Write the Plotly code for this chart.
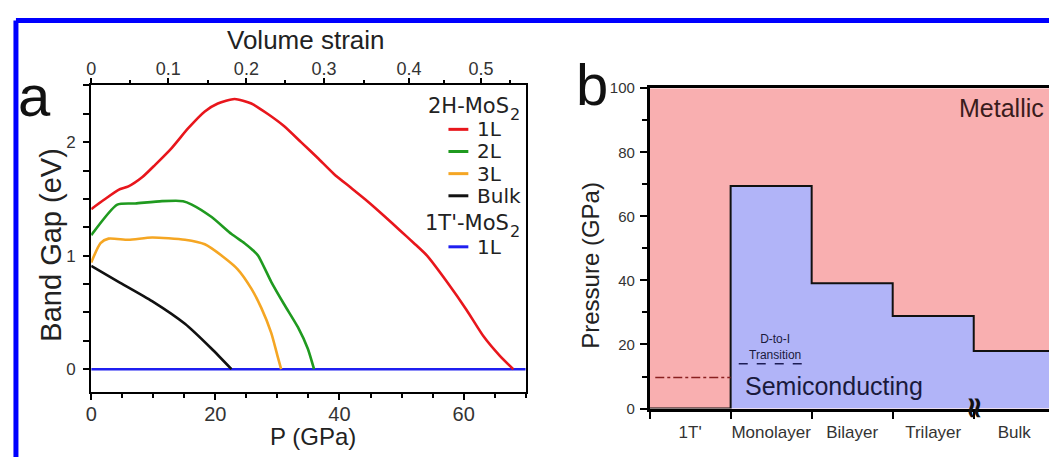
import plotly.graph_objects as go

W, H = 1049, 457

# ---------------- panel (a): band gap vs pressure ----------------
p_1l = [0, 2.0, 4.4, 6.0, 8.2, 10.3, 13.0, 15.6, 18.3, 20.4, 23.1, 25.8, 28.4,
        31.1, 33.8, 36.5, 39.1, 41.8, 44.5, 47.2, 49.8, 52.0, 54.1, 57.3, 60.5,
        63.2, 65.8, 68.0]
gap_1l = [1.41, 1.49, 1.58, 1.61, 1.69, 1.80, 1.95, 2.12, 2.27, 2.34, 2.38, 2.34,
          2.25, 2.14, 2.00, 1.86, 1.72, 1.60, 1.48, 1.35, 1.22, 1.11, 1.00, 0.77,
          0.52, 0.29, 0.12, 0.0]

p_2l = [0, 4.2, 7.1, 11.4, 14.8, 16.2, 19.4, 22.6, 24.7, 26.0, 26.9, 29.0, 31.1,
        33.3, 34.9, 35.9]
gap_2l = [1.18, 1.45, 1.46, 1.48, 1.48, 1.45, 1.34, 1.19, 1.11, 1.05, 1.00, 0.77,
          0.57, 0.37, 0.18, 0.0]

p_3l = [0, 1.5, 2.8, 6.0, 9.8, 15.1, 18.3, 21.5, 23.6, 25.8, 27.4, 29.0, 30.0, 30.6]
gap_3l = [0.94, 1.11, 1.15, 1.14, 1.16, 1.14, 1.10, 0.98, 0.88, 0.71, 0.54, 0.32,
          0.12, 0.0]

p_bulk = [0, 4.4, 9.8, 15.1, 19.4, 22.6]
gap_bulk = [0.91, 0.77, 0.60, 0.40, 0.18, 0.0]

p_1t = [0, 70]
gap_1t = [0, 0]

# top axis: volume strain ticks, placed at the matching pressure
strain_labels = ["0", "0.1", "0.2", "0.3", "0.4", "0.5"]
strain_at_p = [0, 12.4, 25.0, 37.5, 51.2, 62.8]
strain_minor_at_p = [6.3, 18.8, 31.3, 44.0, 56.9, 67.5]

# ---------------- panel (b): phase diagram ----------------
phases = ["1T'", "Monolayer", "Bilayer", "Trilayer", "Bulk"]
metal_onset = [0, 69.5, 39.1, 28.9, 18.0]   # GPa, semiconducting below
d_to_i = 14.0                               # GPa, direct-to-indirect (monolayer)
t_prime_level = 9.7                         # GPa, dash-dot marker in 1T' column

C_RED, C_GREEN, C_ORANGE, C_BLACK, C_BLUE = "#e8161c", "#1f9a1f", "#f5a623", "#111111", "#1f1ff0"
FILL_METAL, FILL_SEMI = "#f9afb0", "#b1b4f8"
SANS = "Liberation Sans, Arial, sans-serif"
DJV = "DejaVu Sans, Verdana, sans-serif"
TICK = "#333333"


def fx(px):
    return px / W


def fy(py):
    return 1 - py / H


fig = go.Figure()

for xs, ys, col in [(p_1t, gap_1t, C_BLUE), (p_bulk, gap_bulk, C_BLACK),
                    (p_3l, gap_3l, C_ORANGE), (p_2l, gap_2l, C_GREEN),
                    (p_1l, gap_1l, C_RED)]:
    fig.add_trace(go.Scatter(x=xs, y=ys, mode="lines",
                             line=dict(color=col, width=2.6, shape="spline", smoothing=0.6),
                             xaxis="x", yaxis="y", showlegend=False, hoverinfo="skip"))

# carrier trace for the top strain axis
fig.add_trace(go.Scatter(x=[None], y=[None], xaxis="x3", yaxis="y", showlegend=False))

# panel (b): metallic background, semiconducting step region
n_cols = len(phases)
fig.add_trace(go.Scatter(x=[0, n_cols], y=[100, 100], mode="lines", fill="tozeroy",
                         fillcolor=FILL_METAL, line=dict(width=0), xaxis="x2", yaxis="y2",
                         showlegend=False, hoverinfo="skip"))
step_x = list(range(n_cols + 1))
step_y = metal_onset + [metal_onset[-1]]
fig.add_trace(go.Scatter(x=step_x, y=step_y, mode="lines", line_shape="hv", fill="tozeroy",
                         fillcolor=FILL_SEMI, line=dict(color="#111111", width=2),
                         xaxis="x2", yaxis="y2", showlegend=False, hoverinfo="skip"))
fig.add_trace(go.Scatter(x=[0.07, 1.0], y=[t_prime_level] * 2, mode="lines",
                         line=dict(color="#8a2020", width=1.3, dash="dashdot"),
                         xaxis="x2", yaxis="y2", showlegend=False, hoverinfo="skip"))
fig.add_trace(go.Scatter(x=[1.1, 1.98], y=[d_to_i] * 2, mode="lines",
                         line=dict(color="#1c1c55", width=1.4, dash="dash"),
                         xaxis="x2", yaxis="y2", showlegend=False, hoverinfo="skip"))

xb_right = (W - 647.3) / 81.5

fig.update_layout(
    width=W, height=H, margin=dict(l=0, r=0, t=0, b=0),
    paper_bgcolor="white", plot_bgcolor="white",
    xaxis=dict(domain=[fx(85.7), fx(522.7)], anchor="y", range=[0, 70],
               tickmode="array", tickvals=[0, 20, 40, 60], ticks="outside", ticklen=6,
               tickwidth=1.5, tickcolor="black",
               minor=dict(tickvals=[5, 10, 15, 25, 30, 35, 45, 50, 55, 65, 70],
                          ticks="outside", ticklen=4, tickcolor="black", tickwidth=1.5),
               showline=True, linecolor="black", linewidth=2, showgrid=False,
               zeroline=False, tickfont=dict(family=SANS, size=20, color=TICK),
               ticklabelstandoff=-3),
    xaxis3=dict(overlaying="x", side="top", anchor="y", range=[0, 70],
                tickmode="array", tickvals=strain_at_p, ticktext=strain_labels,
                ticks="outside", ticklen=5, tickwidth=1.5, tickcolor="black",
                minor=dict(tickvals=strain_minor_at_p, ticks="outside", ticklen=3,
                           tickcolor="black", tickwidth=1.5),
                showline=True, linecolor="black", linewidth=2, showgrid=False,
                zeroline=False, tickfont=dict(family=SANS, size=18, color=TICK),
                ticklabelstandoff=-4),
    yaxis=dict(domain=[fy(397.7), fy(79.3)], anchor="x", range=[-0.2, 2.5],
               tickmode="array", tickvals=[0, 1, 2], ticks="outside", ticklen=6,
               tickwidth=1.5, tickcolor="black",
               minor=dict(dtick=0.25, tick0=0, ticks="outside", ticklen=6,
                          tickcolor="black", tickwidth=1.5),
               showline=True, mirror=True, linecolor="black", linewidth=2,
               showgrid=False, zeroline=False,
               tickfont=dict(family=SANS, size=17, color=TICK), ticklabelstandoff=4),
    xaxis2=dict(domain=[fx(647.3), 1.0], anchor="y2", range=[0, xb_right],
                tickmode="array", tickvals=[i + 0.5 for i in range(n_cols)],
                ticktext=phases, ticks="outside", ticklen=0,
                minor=dict(tickvals=list(range(n_cols)), ticks="outside", ticklen=8,
                           tickcolor="black", tickwidth=2),
                showline=True, mirror=True, linecolor="black", linewidth=2.5,
                showgrid=False, zeroline=False,
                tickfont=dict(family=SANS, size=17, color=TICK), ticklabelstandoff=6),
    yaxis2=dict(domain=[fy(415), fy(82.3)], anchor="x2", range=[0, 100],
                tickmode="linear", tick0=0, dtick=20, ticks="outside", ticklen=7,
                tickwidth=2, tickcolor="black",
                minor=dict(dtick=10, ticks="outside", ticklen=5, tickcolor="black",
                           tickwidth=2),
                showline=True, linecolor="black", linewidth=2.5, showgrid=False,
                zeroline=False, tickfont=dict(family=SANS, size=15, color=TICK),
                ticklabelstandoff=2),
)

ann = []


def add_text(text, x, y, size, family=SANS, color="#222", xanchor="center",
             yanchor="middle", angle=0):
    ann.append(dict(text=text, x=fx(x), y=fy(y), xref="paper", yref="paper",
                    showarrow=False, font=dict(family=family, size=size, color=color),
                    xanchor=xanchor, yanchor=yanchor, textangle=angle))


# panel letters and axis titles
add_text("a", 29, 90, 58, color="#111")
add_text("b", 589, 78, 58, color="#111")
add_text("Volume strain", 302, 32, 26)
add_text("P (GPa)", 309, 444, 24)
add_text("Band Gap (eV)", 45, 245, 29, angle=-90)
add_text("Pressure (GPa)", 587, 266, 24, angle=-90)

# legend of panel (a): group titles with a lowered subscript
for title, yy in [("2H-MoS", 101), ("1T'-MoS", 222)]:
    add_text(title, 508, yy, 21, family=DJV, xanchor="right")
    add_text("2", 505, yy + 9, 16, family=DJV, xanchor="left")
entries = [("1L", C_RED, 125), ("2L", C_GREEN, 148), ("3L", C_ORANGE, 171),
           ("Bulk", C_BLACK, 194), ("1L", C_BLUE, 247)]
shapes = []
for label, col, yy in entries:
    add_text(label, 472, yy, 20, family=DJV, xanchor="left")
    shapes.append(dict(type="line", xref="paper", yref="paper", x0=fx(445), x1=fx(465),
                       y0=fy(yy), y1=fy(yy), line=dict(color=col, width=3)))

# panel (b) labels
add_text("Metallic", 1046, 103, 25, color="#3a1c1c", xanchor="right")
add_text("Semiconducting", 741, 392, 25, color="#1a1a3c", xanchor="left")
add_text("D-to-I<br>Transition", 773, 351, 12, color="#1a1a3c")
add_text("<b>≈</b>", 975, 414, 30, family=DJV, color="#111", angle=90)

# page border
shapes.append(dict(type="line", xref="paper", yref="paper", x0=fx(10), x1=1.05,
                   y0=fy(12), y1=fy(12), line=dict(color="#0000ff", width=5)))
shapes.append(dict(type="line", xref="paper", yref="paper", x0=fx(10), x1=fx(10),
                   y0=fy(12), y1=-0.05, line=dict(color="#0000ff", width=5)))

fig.update_layout(annotations=ann, shapes=shapes)
fig.write_html("out.html")
